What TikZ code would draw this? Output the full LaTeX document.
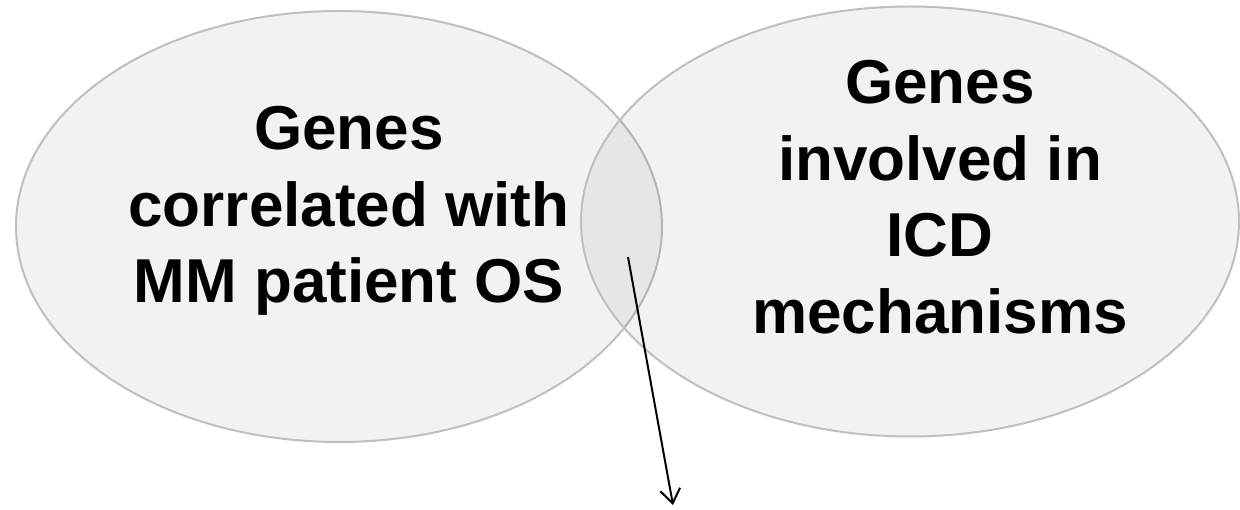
\documentclass[tikz,border=0pt]{standalone}
\usepackage{fontspec}
\setmainfont{Liberation Sans}
\usetikzlibrary{shapes.geometric,arrows.meta}
\tikzset{
  setbox/.style={ellipse, draw=black!25, line width=2pt, fill=black, fill opacity=0.05, draw opacity=1, inner sep=0pt},
  settext/.style={align=center, font=\fontsize{62}{76.5}\selectfont\bfseries, inner sep=0pt, anchor=base},
  conn/.style={line width=2pt, -{Straight Barb[length=14pt,width=20pt,line width=2pt]}}
}
\begin{document}
\begin{tikzpicture}[x=1pt,y=-1pt]
\useasboundingbox (0,0) rectangle (1240,510);
\node[setbox, minimum width=646pt, minimum height=431pt] (left) at (339,226.5) {};
\node[setbox, minimum width=658pt, minimum height=430pt] (right) at (910,221.5) {};
\node[settext] (ltext) at (349,303) {Genes\\correlated with\\MM patient OS};
\node[settext] (rtext) at (940,333.5) {Genes\\involved in\\ICD\\mechanisms};
\coordinate (start) at (628,257);
\coordinate (end) at (673,505);
\draw[conn] (start) -- (end);
\end{tikzpicture}
\end{document}
